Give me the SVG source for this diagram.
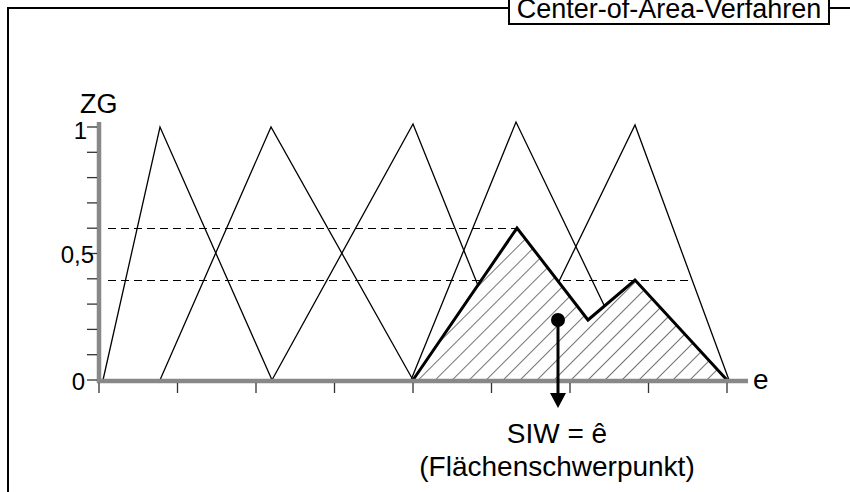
<svg xmlns="http://www.w3.org/2000/svg" width="850" height="492" viewBox="0 0 850 492">
<style>
text{font-family:"Liberation Sans",Arial,sans-serif;fill:#000}
.lbl{font-size:27px}
.num{font-size:24px;text-anchor:end}
.tri{fill:none;stroke:#000;stroke-width:1.3}
.tick{stroke:#333;stroke-width:1.3}
.axis{stroke:#888;stroke-width:4.5}
.dash{stroke:#000;stroke-width:1.1;stroke-dasharray:8 5}
.frame{fill:none;stroke:#000;stroke-width:2}
</style>
<defs>
<pattern id="hatch" patternUnits="userSpaceOnUse" width="12" height="12" patternTransform="rotate(45)">
<line x1="0" y1="0" x2="0" y2="12" stroke="#000" stroke-width="1.1"/>
</pattern>
<marker id="arr" markerWidth="16" markerHeight="16" refX="0" refY="8" orient="auto" markerUnits="userSpaceOnUse">
<path d="M0,0 L15,8 L0,16 Z" fill="#000"/>
</marker>
</defs>
<g id="frame">
<polyline class="frame" points="8,492 8,8 509,8"/>
<line x1="829" y1="8" x2="850" y2="8" stroke="#000" stroke-width="2"/>
<rect x="509" y="-5" width="320" height="29" fill="#fff" stroke="#000" stroke-width="2"/>
<text class="lbl" x="669" y="18" text-anchor="middle">Center-of-Area-Verfahren</text>
</g>
<g id="dashes">
<line class="dash" x1="108" y1="228.5" x2="517" y2="228.5"/>
<line class="dash" x1="108" y1="280.5" x2="693" y2="280.5"/>
</g>
<g id="membership">
<polyline class="tri" points="103,380 160,127 272,380"/>
<polyline class="tri" points="160,380 271,127 413,380"/>
<polyline class="tri" points="272,380 413,124 516,380"/>
<polyline class="tri" points="411,380 516,122 640,380"/>
<polyline class="tri" points="511,380 635,125 729,380"/>
</g>
<g id="area">
<polygon points="413,380 517,228 588,320 635,280 727,380" fill="#fff"/>
<polygon points="413,380 517,228 588,320 635,280 727,380" fill="url(#hatch)"/>
<polyline points="413,380 517,228 588,320 635,280 727,380" fill="none" stroke="#000" stroke-width="3" stroke-linejoin="miter"/>
</g>
<g id="axes">
<line class="axis" x1="99" y1="122" x2="99" y2="383"/>
<line class="axis" x1="97" y1="381" x2="748" y2="381"/>
<g class="tick">
<line x1="87" y1="127" x2="97" y2="127"/>
<line x1="87" y1="152.3" x2="97" y2="152.3"/>
<line x1="87" y1="177.6" x2="97" y2="177.6"/>
<line x1="87" y1="202.9" x2="97" y2="202.9"/>
<line x1="87" y1="228.2" x2="97" y2="228.2"/>
<line x1="87" y1="253.5" x2="97" y2="253.5"/>
<line x1="87" y1="278.8" x2="97" y2="278.8"/>
<line x1="87" y1="304.1" x2="97" y2="304.1"/>
<line x1="87" y1="329.4" x2="97" y2="329.4"/>
<line x1="87" y1="354.7" x2="97" y2="354.7"/>
<line x1="87" y1="380" x2="97" y2="380"/>
<line x1="99" y1="383" x2="99" y2="393"/>
<line x1="177.5" y1="383" x2="177.5" y2="393"/>
<line x1="256" y1="383" x2="256" y2="393"/>
<line x1="334.5" y1="383" x2="334.5" y2="393"/>
<line x1="413" y1="383" x2="413" y2="393"/>
<line x1="491.5" y1="383" x2="491.5" y2="393"/>
<line x1="570" y1="383" x2="570" y2="393"/>
<line x1="648.5" y1="383" x2="648.5" y2="393"/>
<line x1="727" y1="383" x2="727" y2="393"/>
</g>
<text class="lbl" x="80" y="113">ZG</text>
<text class="num" x="87" y="139">1</text>
<text class="num" x="94" y="263">0,5</text>
<text class="num" x="85" y="390">0</text>
<text class="lbl" x="753" y="389" style="font-size:28px">e</text>
</g>
<g id="centroid">
<circle cx="558" cy="320" r="7" fill="#000"/>
<line x1="558" y1="320" x2="558" y2="393" stroke="#000" stroke-width="3" marker-end="url(#arr)"/>
<text class="lbl" x="557" y="443" text-anchor="middle" style="font-size:28px">SIW = ê</text>
<text class="lbl" x="557" y="476" text-anchor="middle" style="font-size:28px">(Flächenschwerpunkt)</text>
</g>
</svg>
